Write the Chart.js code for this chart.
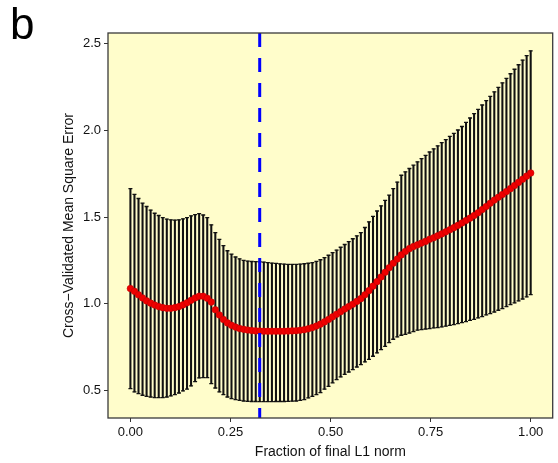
<!DOCTYPE html>
<html>
<head>
<meta charset="utf-8">
<script src="https://cdn.jsdelivr.net/npm/chart.js@4/dist/chart.umd.min.js"></script>
<style>
  body { margin: 0; background: #fff; }
  #wrap { position: relative; width: 558px; height: 463px; }
  #panel { position: absolute; left: 10px; top: 2px; font: 44px "Liberation Sans", Arial, sans-serif; line-height: 1; color: #000; }
  canvas { position: absolute; left: 0; top: 0; }
</style>
</head>
<body>
<div id="wrap">
  <canvas id="canvas" width="558" height="463"></canvas>
  <div id="panel">b</div>
</div>
<script>
// cross-validation curve, 100 fractions of the final L1 norm
var nSteps = 100;
var fractions = Array.from({length: nSteps}, function(v, i) { return i / (nSteps - 1); });

var cvMean = [
  1.088, 1.072, 1.052, 1.034, 1.017, 1.004, 0.993, 0.984, 0.978, 0.974,
  0.974, 0.978, 0.984, 0.994, 1.006, 1.020, 1.034, 1.044, 1.044, 1.032,
  1.010, 0.966, 0.936, 0.910, 0.890, 0.876, 0.866, 0.858, 0.853, 0.849,
  0.846, 0.844, 0.843, 0.842, 0.842, 0.842, 0.842, 0.842, 0.842, 0.843,
  0.844, 0.845, 0.848, 0.851, 0.856, 0.863, 0.872, 0.883, 0.896, 0.910,
  0.925, 0.940, 0.955, 0.970, 0.984, 0.998, 1.014, 1.030, 1.052, 1.076,
  1.102, 1.128, 1.155, 1.182, 1.208, 1.234, 1.258, 1.282, 1.302, 1.318,
  1.330, 1.340, 1.350, 1.360, 1.372, 1.381, 1.392, 1.403, 1.415, 1.427,
  1.439, 1.452, 1.466, 1.480, 1.494, 1.509, 1.525, 1.543, 1.561, 1.580,
  1.598, 1.614, 1.630, 1.647, 1.664, 1.682, 1.700, 1.718, 1.736, 1.754
];

var cvUpper = [
  1.664, 1.631, 1.607, 1.580, 1.561, 1.540, 1.522, 1.509, 1.497, 1.488,
  1.484, 1.483, 1.484, 1.490, 1.497, 1.507, 1.514, 1.520, 1.512, 1.497,
  1.455, 1.410, 1.372, 1.335, 1.306, 1.286, 1.270, 1.259, 1.251, 1.246,
  1.244, 1.243, 1.242, 1.240, 1.238, 1.235, 1.233, 1.230, 1.229, 1.228,
  1.228, 1.228, 1.229, 1.231, 1.234, 1.238, 1.245, 1.254, 1.266, 1.280,
  1.295, 1.310, 1.326, 1.342, 1.358, 1.375, 1.392, 1.410, 1.440, 1.472,
  1.504, 1.535, 1.565, 1.596, 1.626, 1.664, 1.702, 1.741, 1.761, 1.780,
  1.799, 1.818, 1.837, 1.856, 1.875, 1.893, 1.911, 1.929, 1.947, 1.965,
  1.983, 2.002, 2.022, 2.046, 2.071, 2.096, 2.121, 2.146, 2.171, 2.196,
  2.222, 2.248, 2.274, 2.300, 2.326, 2.352, 2.378, 2.405, 2.431, 2.458
];

var cvLower = [
  0.511, 0.492, 0.482, 0.473, 0.467, 0.463, 0.459, 0.459, 0.459, 0.463,
  0.469, 0.477, 0.486, 0.498, 0.509, 0.527, 0.552, 0.573, 0.575, 0.575,
  0.540, 0.515, 0.492, 0.477, 0.463, 0.454, 0.448, 0.444, 0.440, 0.438,
  0.437, 0.437, 0.436, 0.436, 0.436, 0.436, 0.437, 0.437, 0.437, 0.438,
  0.439, 0.440, 0.444, 0.448, 0.458, 0.467, 0.477, 0.488, 0.508, 0.524,
  0.545, 0.563, 0.579, 0.594, 0.607, 0.621, 0.636, 0.650, 0.665, 0.680,
  0.698, 0.717, 0.736, 0.755, 0.776, 0.796, 0.809, 0.819, 0.824, 0.832,
  0.840, 0.848, 0.851, 0.855, 0.857, 0.861, 0.863, 0.867, 0.871, 0.876,
  0.880, 0.886, 0.892, 0.898, 0.905, 0.911, 0.919, 0.926, 0.936, 0.944,
  0.953, 0.963, 0.972, 0.984, 0.995, 1.005, 1.017, 1.028, 1.040, 1.053
];

var bestFraction = 0.323;
var xTicks = [0, 0.25, 0.5, 0.75, 1];
var yTicks = [0.5, 1.0, 1.5, 2.0, 2.5];
var xRange = [-0.056, 1.055];
var yRange = [0.342, 2.561];

var FONT = '"Liberation Sans", Arial, Helvetica, sans-serif';

function pts(values) {
  return values.map(function(v, i) { return {x: fractions[i], y: v}; });
}

var panelBox = {
  id: 'panelBox',
  beforeDatasetsDraw: function(chart) {
    var a = chart.chartArea, ctx = chart.ctx;
    ctx.save();
    ctx.fillStyle = '#FFFDCB';
    ctx.fillRect(a.left, a.top, a.right - a.left, a.bottom - a.top);
    ctx.restore();
  },
  afterDraw: function(chart) {
    var a = chart.chartArea, ctx = chart.ctx;
    ctx.save();
    ctx.strokeStyle = '#3a3a3a';
    ctx.lineWidth = 1.3;
    ctx.strokeRect(a.left, a.top, a.right - a.left, a.bottom - a.top);
    ctx.restore();
  }
};

var ctx = document.getElementById('canvas').getContext('2d');
var chart = new Chart(ctx, {
  type: 'bar',
  data: {
    datasets: [
      {
        type: 'bar',
        label: 'range',
        data: fractions.map(function(f, i) { return {x: f, y: [cvLower[i], cvUpper[i]]}; }),
        backgroundColor: '#111',
        borderWidth: 0,
        barThickness: 1.4,
        order: 4
      },
      {
        type: 'scatter',
        label: 'upper',
        data: pts(cvUpper),
        pointStyle: 'line',
        pointRadius: 2,
        borderColor: '#111',
        borderWidth: 1.3,
        order: 3
      },
      {
        type: 'scatter',
        label: 'lower',
        data: pts(cvLower),
        pointStyle: 'line',
        pointRadius: 2,
        borderColor: '#111',
        borderWidth: 1.3,
        order: 3
      },
      {
        type: 'line',
        label: 'mean',
        data: pts(cvMean),
        showLine: false,
        pointRadius: 3.3,
        pointBackgroundColor: '#ee0000',
        pointBorderColor: '#c80000',
        pointBorderWidth: 0.6,
        order: 2
      },
      {
        type: 'line',
        label: 'best',
        data: [{x: bestFraction, y: yRange[1]}, {x: bestFraction, y: yRange[0]}],
        borderColor: '#0000ff',
        borderWidth: 3,
        borderDash: [14, 11],
        pointRadius: 0,
        order: 1
      }
    ]
  },
  options: {
    responsive: false,
    animation: false,
    devicePixelRatio: 1,
    layout: { padding: { left: 0, right: 2, top: 33, bottom: 0 } },
    plugins: { legend: { display: false }, tooltip: { enabled: false } },
    scales: {
      x: {
        type: 'linear',
        offset: false,
        min: xRange[0],
        max: xRange[1],
        afterBuildTicks: function(s) { s.ticks = xTicks.map(function(v) { return {value: v}; }); },
        afterFit: function(s) { s.height = 45; },
        border: { display: false },
        grid: { offset: false, drawOnChartArea: false, drawTicks: true, tickLength: 4, color: '#333', lineWidth: 1 },
        ticks: {
          padding: 3, color: '#111', maxRotation: 0,
          font: { family: FONT, size: 13 },
          callback: function(v) { return v.toFixed(2); }
        },
        title: { display: true, text: 'Fraction of final L1 norm', color: '#111', font: { family: FONT, size: 14 }, padding: { top: 0, bottom: 2 } }
      },
      y: {
        type: 'linear',
        min: yRange[0],
        max: yRange[1],
        afterBuildTicks: function(s) { s.ticks = yTicks.map(function(v) { return {value: v}; }); },
        afterFit: function(s) { s.width = 108; },
        border: { display: false },
        grid: { drawOnChartArea: false, drawTicks: true, tickLength: 4, color: '#333', lineWidth: 1 },
        ticks: {
          padding: 3, color: '#111',
          font: { family: FONT, size: 13 },
          callback: function(v) { return v.toFixed(1); }
        },
        title: { display: true, text: 'Cross\u2212Validated Mean Square Error', color: '#111', font: { family: FONT, size: 14 }, padding: { top: 61, bottom: 0 } }
      }
    }
  },
  plugins: [panelBox]
});
</script>
</body>
</html>
